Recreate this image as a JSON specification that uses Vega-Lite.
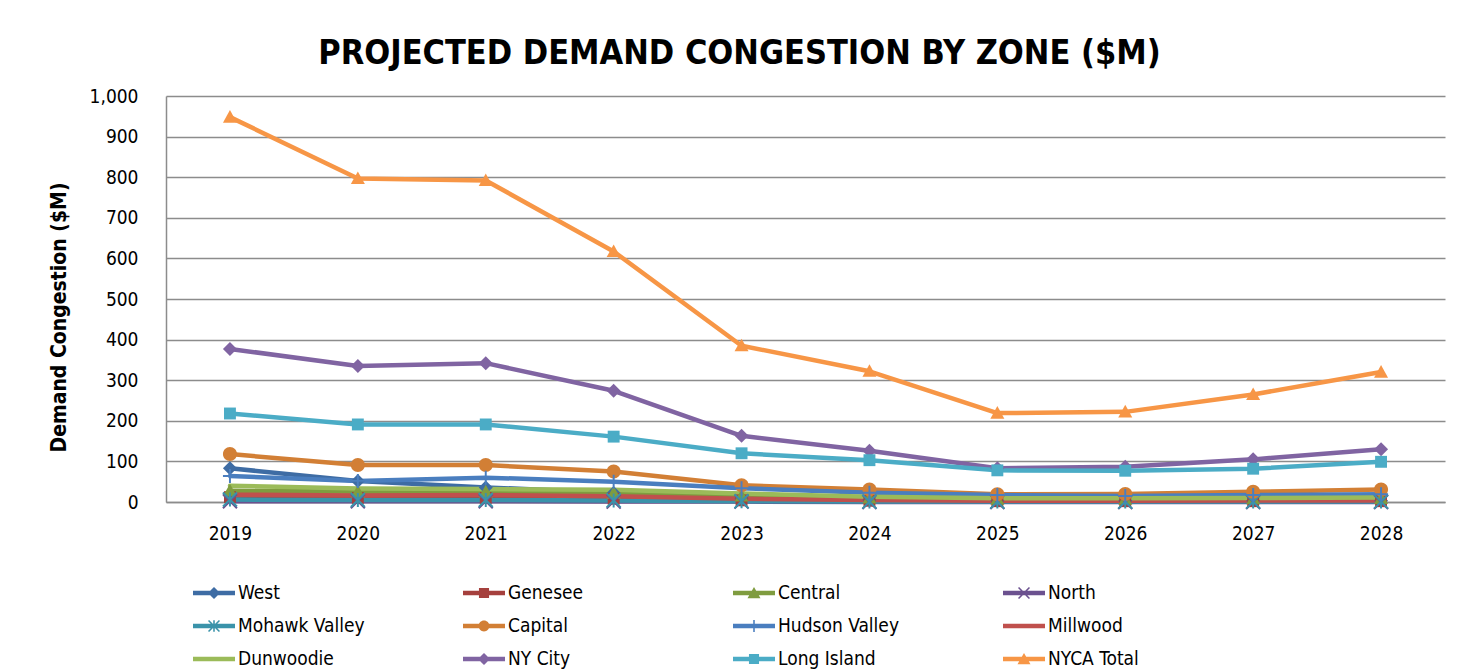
{
  "$schema": "https://vega.github.io/schema/vega-lite/v6.json",
  "autosize": "none",
  "width": 1279,
  "height": 406,
  "padding": {"left": 166, "top": 96, "right": 26, "bottom": 169},
  "background": "white",
  "title": {
    "text": "PROJECTED DEMAND CONGESTION BY ZONE ($M)",
    "font": "DejaVu Sans Condensed, Roboto, sans-serif",
    "fontSize": 34,
    "fontWeight": "bold",
    "color": "black",
    "anchor": "middle",
    "dx": -66,
    "dy": 45,
    "baseline": "alphabetic",
    "offset": 34
  },
  "config": {
    "view": {"stroke": null},
    "axis": {
      "labelFont": "DejaVu Sans Condensed, Roboto, sans-serif",
      "labelFontSize": 19,
      "labelColor": "black",
      "titleFont": "DejaVu Sans Condensed, Roboto, sans-serif",
      "titleColor": "black",
      "domainColor": "#8c8c8c",
      "domainWidth": 1.5,
      "gridColor": "#8c8c8c",
      "gridWidth": 1.5,
      "ticks": false
    }
  },
  "data": {"values": [
    {"year":"2019","zone":"West","v":83},{"year":"2020","zone":"West","v":52},{"year":"2021","zone":"West","v":36},{"year":"2022","zone":"West","v":22},{"year":"2023","zone":"West","v":8},{"year":"2024","zone":"West","v":5},{"year":"2025","zone":"West","v":3},{"year":"2026","zone":"West","v":3},{"year":"2027","zone":"West","v":3},{"year":"2028","zone":"West","v":3},
    {"year":"2019","zone":"Genesee","v":12},{"year":"2020","zone":"Genesee","v":10},{"year":"2021","zone":"Genesee","v":10},{"year":"2022","zone":"Genesee","v":8},{"year":"2023","zone":"Genesee","v":4},{"year":"2024","zone":"Genesee","v":3},{"year":"2025","zone":"Genesee","v":2},{"year":"2026","zone":"Genesee","v":2},{"year":"2027","zone":"Genesee","v":2},{"year":"2028","zone":"Genesee","v":2},
    {"year":"2019","zone":"Central","v":28},{"year":"2020","zone":"Central","v":25},{"year":"2021","zone":"Central","v":25},{"year":"2022","zone":"Central","v":22},{"year":"2023","zone":"Central","v":15},{"year":"2024","zone":"Central","v":10},{"year":"2025","zone":"Central","v":7},{"year":"2026","zone":"Central","v":7},{"year":"2027","zone":"Central","v":8},{"year":"2028","zone":"Central","v":9},
    {"year":"2019","zone":"North","v":2},{"year":"2020","zone":"North","v":2},{"year":"2021","zone":"North","v":2},{"year":"2022","zone":"North","v":1},{"year":"2023","zone":"North","v":1},{"year":"2024","zone":"North","v":0},{"year":"2025","zone":"North","v":0},{"year":"2026","zone":"North","v":0},{"year":"2027","zone":"North","v":0},{"year":"2028","zone":"North","v":0},
    {"year":"2019","zone":"Mohawk Valley","v":6},{"year":"2020","zone":"Mohawk Valley","v":5},{"year":"2021","zone":"Mohawk Valley","v":5},{"year":"2022","zone":"Mohawk Valley","v":4},{"year":"2023","zone":"Mohawk Valley","v":2},{"year":"2024","zone":"Mohawk Valley","v":1},{"year":"2025","zone":"Mohawk Valley","v":1},{"year":"2026","zone":"Mohawk Valley","v":1},{"year":"2027","zone":"Mohawk Valley","v":1},{"year":"2028","zone":"Mohawk Valley","v":1},
    {"year":"2019","zone":"Capital","v":118},{"year":"2020","zone":"Capital","v":91},{"year":"2021","zone":"Capital","v":91},{"year":"2022","zone":"Capital","v":75},{"year":"2023","zone":"Capital","v":41},{"year":"2024","zone":"Capital","v":31},{"year":"2025","zone":"Capital","v":19},{"year":"2026","zone":"Capital","v":20},{"year":"2027","zone":"Capital","v":25},{"year":"2028","zone":"Capital","v":31},
    {"year":"2019","zone":"Hudson Valley","v":64},{"year":"2020","zone":"Hudson Valley","v":52},{"year":"2021","zone":"Hudson Valley","v":60},{"year":"2022","zone":"Hudson Valley","v":50},{"year":"2023","zone":"Hudson Valley","v":34},{"year":"2024","zone":"Hudson Valley","v":23},{"year":"2025","zone":"Hudson Valley","v":17},{"year":"2026","zone":"Hudson Valley","v":15},{"year":"2027","zone":"Hudson Valley","v":17},{"year":"2028","zone":"Hudson Valley","v":19},
    {"year":"2019","zone":"Millwood","v":18},{"year":"2020","zone":"Millwood","v":16},{"year":"2021","zone":"Millwood","v":17},{"year":"2022","zone":"Millwood","v":14},{"year":"2023","zone":"Millwood","v":8},{"year":"2024","zone":"Millwood","v":5},{"year":"2025","zone":"Millwood","v":3},{"year":"2026","zone":"Millwood","v":3},{"year":"2027","zone":"Millwood","v":4},{"year":"2028","zone":"Millwood","v":4},
    {"year":"2019","zone":"Dunwoodie","v":40},{"year":"2020","zone":"Dunwoodie","v":33},{"year":"2021","zone":"Dunwoodie","v":32},{"year":"2022","zone":"Dunwoodie","v":30},{"year":"2023","zone":"Dunwoodie","v":21},{"year":"2024","zone":"Dunwoodie","v":13},{"year":"2025","zone":"Dunwoodie","v":9},{"year":"2026","zone":"Dunwoodie","v":9},{"year":"2027","zone":"Dunwoodie","v":10},{"year":"2028","zone":"Dunwoodie","v":11},
    {"year":"2019","zone":"NY City","v":377},{"year":"2020","zone":"NY City","v":335},{"year":"2021","zone":"NY City","v":342},{"year":"2022","zone":"NY City","v":274},{"year":"2023","zone":"NY City","v":163},{"year":"2024","zone":"NY City","v":126},{"year":"2025","zone":"NY City","v":83},{"year":"2026","zone":"NY City","v":87},{"year":"2027","zone":"NY City","v":105},{"year":"2028","zone":"NY City","v":130},
    {"year":"2019","zone":"Long Island","v":218},{"year":"2020","zone":"Long Island","v":191},{"year":"2021","zone":"Long Island","v":191},{"year":"2022","zone":"Long Island","v":161},{"year":"2023","zone":"Long Island","v":120},{"year":"2024","zone":"Long Island","v":103},{"year":"2025","zone":"Long Island","v":78},{"year":"2026","zone":"Long Island","v":77},{"year":"2027","zone":"Long Island","v":82},{"year":"2028","zone":"Long Island","v":99},
    {"year":"2019","zone":"NYCA Total","v":948},{"year":"2020","zone":"NYCA Total","v":797},{"year":"2021","zone":"NYCA Total","v":792},{"year":"2022","zone":"NYCA Total","v":617},{"year":"2023","zone":"NYCA Total","v":385},{"year":"2024","zone":"NYCA Total","v":322},{"year":"2025","zone":"NYCA Total","v":219},{"year":"2026","zone":"NYCA Total","v":222},{"year":"2027","zone":"NYCA Total","v":265},{"year":"2028","zone":"NYCA Total","v":320}
  ]},
  "encoding": {
    "x": {
      "field": "year", "type": "ordinal",
      "scale": {"type": "point", "padding": 0.5},
      "axis": {"title": null, "labelAngle": 0, "labelPadding": 22, "grid": false}
    },
    "y": {
      "field": "v", "type": "quantitative",
      "scale": {"domain": [0, 1000], "nice": false},
      "axis": {
        "title": "Demand Congestion ($M)",
        "titleFontSize": 21,
        "titleFontWeight": "bold",
        "titlePadding": 20,
        "titleY": 221,
        "values": [0,100,200,300,400,500,600,700,800,900,1000],
        "format": ",d",
        "labelPadding": 28,
        "grid": true
      }
    }
  },
  "layer": [
    {
      "mark": {"type": "line", "strokeWidth": 4.5, "strokeJoin": "round", "strokeCap": "round"},
      "encoding": {
        "color": {
          "field": "zone", "type": "nominal", "legend": null,
          "scale": {
            "domain": ["West","Genesee","Central","North","Mohawk Valley","Capital","Hudson Valley","Millwood","Dunwoodie","NY City","Long Island","NYCA Total"],
            "range": ["#3E6CA4","#A5403D","#7F9C3F","#6B518F","#3A93AA","#D27F35","#4A7EBF","#C0504D","#9BBB59","#8064A2","#4BACC6","#F79646"]
          }
        }
      }
    },
    {
      "transform": [{"filter": "datum.zone !== 'Millwood' && datum.zone !== 'Dunwoodie'"}],
      "mark": {"type": "point", "filled": true, "size": 196, "opacity": 1},
      "encoding": {
        "color": {
          "field": "zone", "type": "nominal", "legend": null,
          "scale": {
            "domain": ["West","Genesee","Central","North","Mohawk Valley","Capital","Hudson Valley","NY City","Long Island","NYCA Total"],
            "range": ["#3E6CA4","#A5403D","#7F9C3F","#6B518F","#3A93AA","#D27F35","#4A7EBF","#8064A2","#4BACC6","#F79646"]
          }
        },
        "shape": {
          "field": "zone", "type": "nominal", "legend": null,
          "scale": {
            "domain": ["West","Genesee","Central","North","Mohawk Valley","Capital","Hudson Valley","NY City","Long Island","NYCA Total"],
            "range": [
              "M0,-1L1,0L0,1L-1,0Z",
              "M-0.85,-0.85H0.85V0.85H-0.85Z",
              "M0,-1L1,0.8H-1Z",
              "M-1.1,-0.9L0.9,1.1L1.1,0.9L-0.9,-1.1Z M-0.9,1.1L1.1,-0.9L0.9,-1.1L-1.1,0.9Z",
              "M-1.1,-0.9L0.9,1.1L1.1,0.9L-0.9,-1.1Z M-0.9,1.1L1.1,-0.9L0.9,-1.1L-1.1,0.9Z M-0.14,-1V1H0.14V-1Z",
              "M-1,0A1,1 0 1,0 1,0A1,1 0 1,0 -1,0Z",
              "M-1,-0.14V0.14H1V-0.14Z M-0.14,-1V1H0.14V-1Z",
              "M0,-1L1,0L0,1L-1,0Z",
              "M-0.85,-0.85H0.85V0.85H-0.85Z",
              "M0,-1L1,0.8H-1Z"
            ]
          }
        }
      }
    },
    {
      "mark": {"type": "point", "filled": true, "opacity": 0, "size": 1},
      "encoding": {
        "color": {
          "field": "zone", "type": "nominal",
          "scale": {
            "domain": ["West","Genesee","Central","North","Mohawk Valley","Capital","Hudson Valley","Millwood","Dunwoodie","NY City","Long Island","NYCA Total"],
            "range": ["#3E6CA4","#A5403D","#7F9C3F","#6B518F","#3A93AA","#D27F35","#4A7EBF","#C0504D","#9BBB59","#8064A2","#4BACC6","#F79646"]
          },
          "legend": {
            "title": null, "orient": "none", "legendX": 27, "legendY": 476,
            "columns": 4, "direction": "horizontal", "gridAlign": "all",
            "columnPadding": 98, "rowPadding": 2,
            "symbolSize": 1764, "symbolOpacity": 1, "symbolStrokeWidth": 0,
            "labelFont": "DejaVu Sans Condensed, Roboto, sans-serif", "labelFontSize": 19, "labelColor": "black",
            "labelOffset": 3, "labelLimit": 300
          }
        },
        "shape": {
          "field": "zone", "type": "nominal",
          "scale": {
            "domain": ["West","Genesee","Central","North","Mohawk Valley","Capital","Hudson Valley","Millwood","Dunwoodie","NY City","Long Island","NYCA Total"],
            "range": [
              "M-1,-0.105V0.105H1V-0.105Z M0,-0.29L-0.29,0L0,0.29L0.29,0Z",
              "M-1,-0.105V0.105H1V-0.105Z M-0.24,-0.24V0.24H0.24V-0.24Z",
              "M-1,-0.105V0.105H1V-0.105Z M0,-0.29L-0.31,0.25H0.31Z",
              "M-1,-0.105V0.105H1V-0.105Z M-0.286,-0.234L0.234,0.286L0.286,0.234L-0.234,-0.286Z M-0.234,0.286L0.286,-0.234L0.234,-0.286L-0.286,0.234Z",
              "M-1,-0.105V0.105H1V-0.105Z M-0.286,-0.234L0.234,0.286L0.286,0.234L-0.234,-0.286Z M-0.234,0.286L0.286,-0.234L0.234,-0.286L-0.286,0.234Z M-0.037,-0.27V0.27H0.037V-0.27Z",
              "M-1,-0.105V0.105H1V-0.105Z M-0.26,0A0.26,0.26 0 1,0 0.26,0A0.26,0.26 0 1,0 -0.26,0Z",
              "M-1,-0.105V0.105H1V-0.105Z M-0.037,-0.29V0.29H0.037V-0.29Z",
              "M-1,-0.105V0.105H1V-0.105Z",
              "M-1,-0.105V0.105H1V-0.105Z",
              "M-1,-0.105V0.105H1V-0.105Z M0,-0.29L-0.29,0L0,0.29L0.29,0Z",
              "M-1,-0.105V0.105H1V-0.105Z M-0.24,-0.24V0.24H0.24V-0.24Z",
              "M-1,-0.105V0.105H1V-0.105Z M0,-0.29L-0.31,0.25H0.31Z"
            ]
          },
          "legend": {
            "title": null, "orient": "none", "legendX": 27, "legendY": 476,
            "columns": 4, "direction": "horizontal", "gridAlign": "all",
            "columnPadding": 98, "rowPadding": 2,
            "symbolSize": 1764, "symbolOpacity": 1, "symbolStrokeWidth": 0,
            "labelFont": "DejaVu Sans Condensed, Roboto, sans-serif", "labelFontSize": 19, "labelColor": "black",
            "labelOffset": 3, "labelLimit": 300
          }
        }
      }
    }
  ],
  "resolve": {
    "scale": {"color": "independent", "shape": "independent"},
    "legend": {"color": "independent", "shape": "independent"}
  }
}
